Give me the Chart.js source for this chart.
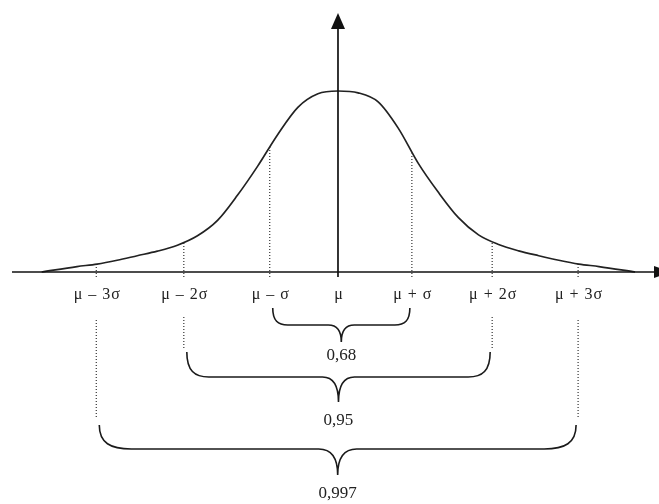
<!DOCTYPE html>
<html>
<head>
<meta charset="utf-8">
<script src="https://cdn.jsdelivr.net/npm/chart.js@4.4.1/dist/chart.umd.min.js"></script>
<style>
  html, body { margin: 0; padding: 0; background: #fff; }
  #wrap { width: 659px; height: 504px; position: relative; }
</style>
</head>
<body>
<div id="wrap"><canvas id="graphique-normale"></canvas></div>
<script>
/** Courbe en cloche : abscisses en unités de sigma, hauteurs relatives au sommet */
const curveX = [-3.69, -3.25, -3.0, -2.75, -2.5, -2.25, -2.0, -1.75, -1.5, -1.25, -1.0, -0.75, -0.5, -0.25, 0,
  0.25, 0.5, 0.75, 1.0, 1.25, 1.5, 1.75, 2.0, 2.25, 2.5, 2.75, 3.0, 3.25, 3.7];
const curveY = [0.0, 0.03, 0.044, 0.065, 0.09, 0.115, 0.148, 0.2, 0.285, 0.425, 0.585, 0.76, 0.91, 0.985, 1.0,
  0.99, 0.94, 0.795, 0.6, 0.44, 0.3, 0.205, 0.152, 0.117, 0.09, 0.065, 0.044, 0.03, 0.0];

/** Repères mu +/- k sigma et hauteur des pointillés jusqu'à la courbe */
const sigmaX = [-3.01, -1.92, -0.85, 0, 0.92, 1.92, 2.99];
const guideTop = [0.044, 0.16, 0.69, 1.0, 0.655, 0.162, 0.044];
const tickLabels = ['μ – 3σ', 'μ – 2σ', 'μ – σ', 'μ', 'μ + σ', 'μ + 2σ', 'μ + 3σ'];

/** Accolades : repère de gauche, repère de droite, probabilité */
const braceFrom = [2, 1, 0];
const braceTo = [4, 5, 6];
const braceLabels = ['0,68', '0,95', '0,997'];

const serif = '"Liberation Serif", "DejaVu Serif", serif';

/** Pointillés verticaux (sauf mu, qui est l'axe) */
const guides = sigmaX
  .map((v, i) => ({ v, i }))
  .filter(g => g.i !== 3)
  .map(g => ({
    data: [{ x: g.v, y: -0.028 }, { x: g.v, y: guideTop[g.i] }],
    borderColor: '#333',
    borderWidth: 1.2,
    borderDash: [1, 2],
    pointRadius: 0,
    tension: 0
  }));

/** Dessine une accolade horizontale ouverte vers le haut */
const accolade = function accolade(ctx, xa, xb, yTop, yMid, yTip, rx, cw) {
  const xc = (xa + xb) / 2;
  const ry = yMid - yTop;
  const d = yTip - yMid;
  ctx.beginPath();
  ctx.moveTo(xa, yTop);
  ctx.bezierCurveTo(xa, yTop + ry * 0.75, xa + rx * 0.35, yMid, xa + rx, yMid);
  ctx.lineTo(xc - cw, yMid);
  ctx.bezierCurveTo(xc - cw * 0.3, yMid, xc, yMid + d * 0.35, xc, yTip);
  ctx.bezierCurveTo(xc, yMid + d * 0.35, xc + cw * 0.3, yMid, xc + cw, yMid);
  ctx.lineTo(xb - rx, yMid);
  ctx.bezierCurveTo(xb - rx * 0.35, yMid, xb, yTop + ry * 0.75, xb, yTop);
  ctx.stroke();
};

/** Axes fléchés, libellés et accolades */
const axesAccolades = {
  id: 'axesAccolades',
  afterDatasetsDraw(chart) {
    const { ctx, scales: { x, y } } = chart;
    const y0 = y.getPixelForValue(0);
    const xm = x.getPixelForValue(0);
    const px = sigmaX.map(v => x.getPixelForValue(v));

    ctx.save();
    ctx.strokeStyle = '#111';
    ctx.fillStyle = '#111';
    ctx.lineWidth = 1.7;

    // axe horizontal
    ctx.beginPath();
    ctx.moveTo(x.left + 12, y0);
    ctx.lineTo(x.right - 2, y0);
    ctx.stroke();
    ctx.beginPath();
    ctx.moveTo(x.right - 5, y0 - 6);
    ctx.lineTo(x.right + 12, y0);
    ctx.lineTo(x.right - 5, y0 + 6);
    ctx.closePath();
    ctx.fill();

    // axe vertical
    ctx.beginPath();
    ctx.moveTo(xm, y0 + 5);
    ctx.lineTo(xm, 26);
    ctx.stroke();
    ctx.beginPath();
    ctx.moveTo(xm - 7, 29);
    ctx.lineTo(xm, 13);
    ctx.lineTo(xm + 7, 29);
    ctx.closePath();
    ctx.fill();

    // libellés sous l'axe
    ctx.fillStyle = '#222';
    ctx.font = '16px ' + serif;
    ctx.textAlign = 'center';
    ctx.textBaseline = 'alphabetic';
    ctx.letterSpacing = '1px';
    tickLabels.forEach((t, i) => ctx.fillText(t, px[i] + 1, y0 + 27));
    ctx.letterSpacing = '0px';

    // pointillés de rappel vers les accolades
    ctx.strokeStyle = '#333';
    ctx.lineWidth = 1.2;
    ctx.setLineDash([1, 2]);
    [[1, 45, 76], [5, 45, 76], [0, 48, 145], [6, 48, 145]].forEach(([i, a, b]) => {
      ctx.beginPath();
      ctx.moveTo(px[i], y0 + a);
      ctx.lineTo(px[i], y0 + b);
      ctx.stroke();
    });
    ctx.setLineDash([]);

    // accolades
    const niveaux = [
      { top: 36, mid: 53, tip: 70, label: 84, rx: 15, cw: 13 },
      { top: 80, mid: 105, tip: 130, label: 149, rx: 22, cw: 16 },
      { top: 153, mid: 177, tip: 203, label: 222, rx: 32, cw: 19 }
    ];
    ctx.strokeStyle = '#1a1a1a';
    ctx.lineWidth = 1.6;
    ctx.font = '17px ' + serif;
    ctx.textBaseline = 'middle';
    niveaux.forEach((n, k) => {
      const xa = px[braceFrom[k]] + 3;
      const xb = px[braceTo[k]] - 2;
      accolade(ctx, xa, xb, y0 + n.top, y0 + n.mid, y0 + n.tip, n.rx, n.cw);
      ctx.fillText(braceLabels[k], (xa + xb) / 2, y0 + n.label);
    });
    ctx.restore();
  }
};

const ctx = document.getElementById('graphique-normale').getContext('2d');
const charts = new Chart(ctx, {
  type: 'line',
  data: {
    datasets: [
      {
        data: curveX.map((v, i) => ({ x: v, y: curveY[i] })),
        borderColor: '#222',
        borderWidth: 1.7,
        pointRadius: 0,
        cubicInterpolationMode: 'monotone'
      },
      ...guides
    ]
  },
  options: {
    responsive: true,
    maintainAspectRatio: false,
    animation: false,
    layout: { padding: 0 },
    plugins: { legend: { display: false }, tooltip: { enabled: false } },
    scales: {
      x: { type: 'linear', min: -4.209, max: 3.9975, display: false },
      y: { type: 'linear', min: -1.2818, max: 1.5028, display: false }
    }
  },
  plugins: [axesAccolades]
});
</script>
</body>
</html>
